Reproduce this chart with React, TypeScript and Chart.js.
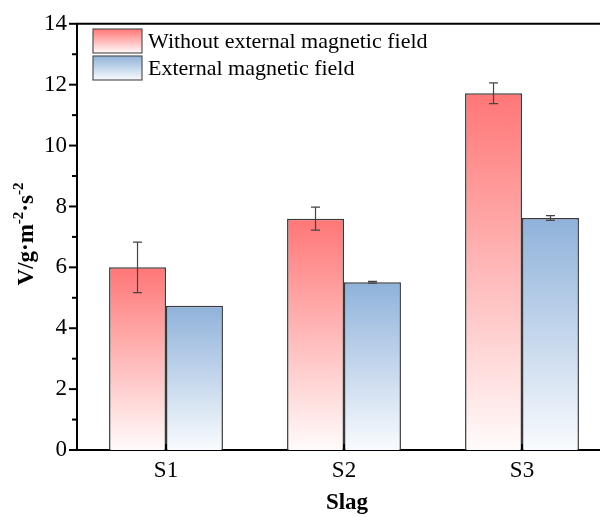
import React, { useEffect, useRef } from "react";
import { Chart, registerables } from "chart.js";

Chart.register(...registerables);

const categories = ["S1", "S2", "S3"];
const withoutField = [6.0, 7.6, 11.72];
const withoutFieldErr = [0.83, 0.38, 0.34];
const withField = [4.74, 5.51, 7.62];
const withFieldErr = [0.0, 0.03, 0.08];
const seriesNames = ["Without external magnetic field", "External magnetic field"];
const yTicks = [0, 2, 4, 6, 8, 10, 12, 14];

const RED_TOP = "rgb(255,118,118)";
const RED_BOTTOM = "rgb(255,251,251)";
const BLUE_TOP = "rgb(143,178,218)";
const BLUE_BOTTOM = "rgb(249,251,254)";
const SERIF = "'Liberation Serif', 'Times New Roman', serif";

function barGradient(top: string, bottom: string) {
  return (ctx: any) => {
    const chart = ctx.chart;
    if (!chart.chartArea || ctx.raw === undefined) return top;
    const ys = chart.scales.y;
    const y0 = ys.getPixelForValue(ctx.raw);
    const y1 = ys.getPixelForValue(0);
    const g = chart.ctx.createLinearGradient(0, y0, 0, y1);
    g.addColorStop(0, top);
    g.addColorStop(1, bottom);
    return g;
  };
}

const decorPlugin = {
  id: "decor",
  afterDatasetsDraw(chart: any) {
    const ctx = chart.ctx;
    const area = chart.chartArea;
    const ys = chart.scales.y;
    const xs = chart.scales.x;
    ctx.save();
    // error bars
    const errs = [withoutFieldErr, withFieldErr];
    chart.data.datasets.forEach((ds: any, di: number) => {
      const meta = chart.getDatasetMeta(di);
      meta.data.forEach((el: any, i: number) => {
        const e = errs[di][i];
        if (!e) return;
        const v = ds.data[i];
        const yt = ys.getPixelForValue(v + e);
        const yb = ys.getPixelForValue(v - e);
        const x = el.x;
        ctx.strokeStyle = "#444";
        ctx.lineWidth = 1.2;
        ctx.beginPath();
        ctx.moveTo(x, yt);
        ctx.lineTo(x, yb);
        ctx.moveTo(x - 4.5, yt);
        ctx.lineTo(x + 4.5, yt);
        ctx.moveTo(x - 4.5, yb);
        ctx.lineTo(x + 4.5, yb);
        ctx.stroke();
      });
    });
    // top border
    ctx.strokeStyle = "#000";
    ctx.lineWidth = 2;
    ctx.beginPath();
    ctx.moveTo(area.left - 1, area.top);
    ctx.lineTo(chart.width, area.top);
    ctx.stroke();
    // y ticks major & minor
    for (let v = 0; v <= 14; v++) {
      const y = ys.getPixelForValue(v);
      const len = v % 2 === 0 ? 8 : 5;
      ctx.beginPath();
      ctx.moveTo(area.left, y);
      ctx.lineTo(area.left - len, y);
      ctx.stroke();
    }
    // x ticks (inward)
    categories.forEach((_, i) => {
      const x = xs.getPixelForValue(i);
      ctx.beginPath();
      ctx.moveTo(x, area.bottom);
      ctx.lineTo(x, area.bottom - 6);
      ctx.stroke();
    });
    // legend
    const boxes = [
      { y: 29, top: RED_TOP, bottom: RED_BOTTOM },
      { y: 56, top: BLUE_TOP, bottom: BLUE_BOTTOM },
    ];
    boxes.forEach((b, i) => {
      const g = ctx.createLinearGradient(0, b.y, 0, b.y + 24);
      g.addColorStop(0, b.top);
      g.addColorStop(1, b.bottom);
      ctx.fillStyle = g;
      ctx.fillRect(93, b.y, 49, 24);
      ctx.strokeStyle = "#555";
      ctx.lineWidth = 1.2;
      ctx.strokeRect(93, b.y, 49, 24);
      ctx.fillStyle = "#000";
      ctx.font = `22px ${SERIF}`;
      ctx.textAlign = "left";
      ctx.textBaseline = "middle";
      ctx.fillText(seriesNames[i], 148, b.y + 13);
    });
    // x title
    ctx.fillStyle = "#000";
    ctx.font = `bold 23px ${SERIF}`;
    ctx.textAlign = "center";
    ctx.textBaseline = "alphabetic";
    ctx.fillText("Slag", 347, 509);
    // y title with superscripts
    const parts: [string, boolean][] = [
      ["V/g·m", false],
      ["-2", true],
      ["·s", false],
      ["-2", true],
    ];
    const mainFont = `bold 23px ${SERIF}`;
    const supFont = `bold 15px ${SERIF}`;
    let total = 0;
    parts.forEach(([t, s]) => {
      ctx.font = s ? supFont : mainFont;
      total += ctx.measureText(t).width;
    });
    ctx.translate(33, 234 + total / 2);
    ctx.rotate(-Math.PI / 2);
    ctx.textAlign = "left";
    let xo = 0;
    parts.forEach(([t, s]) => {
      ctx.font = s ? supFont : mainFont;
      ctx.fillText(t, xo, s ? -10 : 0);
      xo += ctx.measureText(t).width;
    });
    ctx.restore();
  },
};

export default function App() {
  const ref = useRef<HTMLCanvasElement | null>(null);
  useEffect(() => {
    if (!ref.current) return;
    const chart = new Chart(ref.current, {
      type: "bar",
      data: {
        labels: categories,
        datasets: [
          {
            label: seriesNames[0],
            data: withoutField,
            backgroundColor: barGradient(RED_TOP, RED_BOTTOM),
            borderColor: "#3a3a3a",
            borderWidth: 1.5,
            categoryPercentage: 0.64,
            barPercentage: 1,
          },
          {
            label: seriesNames[1],
            data: withField,
            backgroundColor: barGradient(BLUE_TOP, BLUE_BOTTOM),
            borderColor: "#3a3a3a",
            borderWidth: 1.5,
            categoryPercentage: 0.64,
            barPercentage: 1,
          },
        ],
      },
      options: {
        responsive: false,
        animation: false,
        layout: { padding: { top: 20, right: 29, left: 0, bottom: 0 } },
        plugins: {
          legend: { display: false },
          tooltip: { enabled: false },
          title: { display: false },
        },
        scales: {
          x: {
            grid: { display: false, drawTicks: false },
            border: { display: true, color: "#000", width: 2 },
            ticks: {
              color: "#000",
              font: { family: SERIF, size: 23 },
              padding: 7,
            },
            afterFit: (s: any) => {
              s.height = 67;
            },
          },
          y: {
            min: 0,
            max: 14,
            afterBuildTicks: (s: any) => {
              s.ticks = yTicks.map((v) => ({ value: v }));
            },
            grid: { display: false, drawTicks: false },
            border: { display: true, color: "#000", width: 2 },
            ticks: {
              color: "#000",
              font: { family: SERIF, size: 23 },
              padding: 10,
            },
            afterFit: (s: any) => {
              s.width = 77;
            },
          },
        },
      },
      plugins: [decorPlugin],
    });
    return () => chart.destroy();
  }, []);
  return (
    <div style={{ position: "fixed", left: 0, top: 0, width: 600, height: 517, overflow: "hidden", background: "#fff" }}>
      <canvas ref={ref} width={640} height={517} style={{ display: "block" }} />
    </div>
  );
}
